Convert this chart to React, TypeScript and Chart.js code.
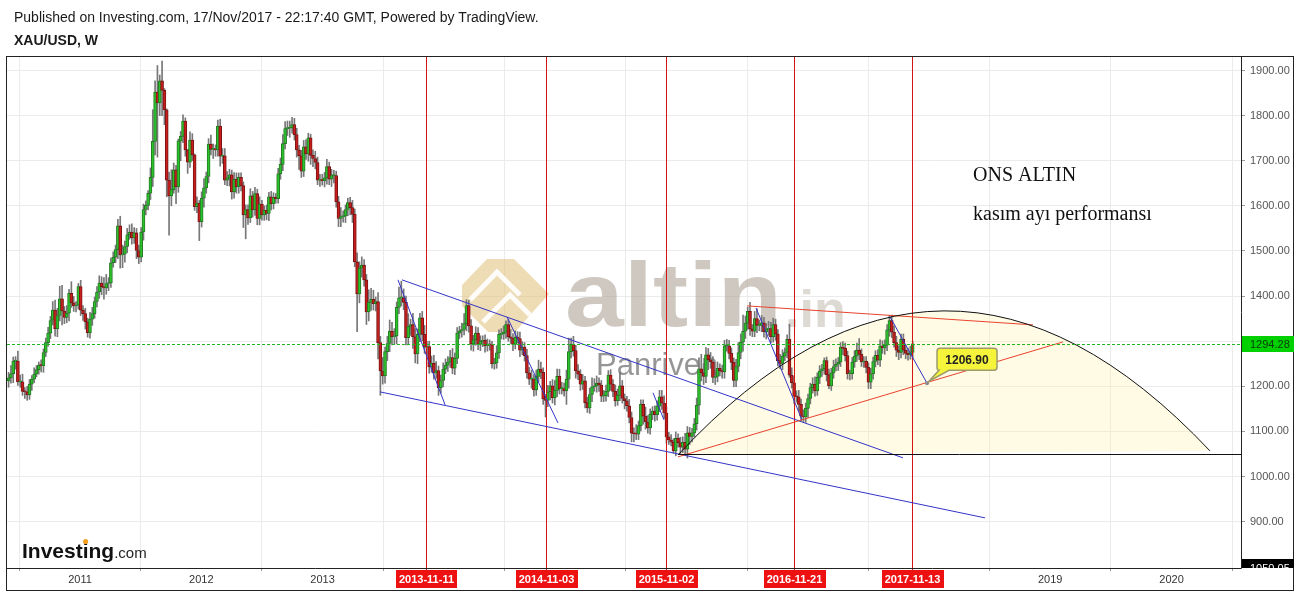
import { useEffect, useRef } from "react";
import { Chart, registerables } from "chart.js";

Chart.register(...registerables);

const SANS = '"Liberation Sans", Arial, Helvetica, sans-serif';
const SERIF = '"Liberation Serif", "Times New Roman", Times, serif';

// ---------------- data: XAU/USD weekly candles (Monday of each week) ----------------
const firstWeekMonday = "2010-05-31";
const firstOpen = 1212;

const close2010 = [1219, 1228, 1256, 1256, 1210, 1210, 1189, 1188, 1181, 1205, 1216, 1227, 1237, 1247, 1246, 1275, 1297, 1318, 1346, 1369, 1328, 1357, 1394, 1367, 1353, 1362, 1406, 1385, 1378, 1380, 1421];
const close2011 = [1369, 1361, 1343, 1319, 1349, 1361, 1388, 1409, 1429, 1421, 1418, 1428, 1429, 1474, 1486, 1503, 1556, 1491, 1493, 1510, 1536, 1542, 1529, 1540, 1501, 1486, 1542, 1592, 1601, 1628, 1663, 1743, 1852, 1828, 1877, 1856, 1813, 1657, 1622, 1636, 1680, 1642, 1744, 1754, 1788, 1724, 1697, 1746, 1713, 1598, 1606, 1565];
const close2012 = [1617, 1640, 1665, 1737, 1725, 1725, 1724, 1777, 1710, 1711, 1657, 1662, 1669, 1631, 1659, 1642, 1663, 1645, 1580, 1592, 1573, 1622, 1591, 1627, 1572, 1604, 1580, 1590, 1583, 1620, 1605, 1619, 1616, 1671, 1692, 1738, 1771, 1772, 1773, 1780, 1758, 1724, 1711, 1677, 1731, 1715, 1751, 1712, 1705, 1696, 1657, 1658, 1656];
const close2013 = [1662, 1687, 1659, 1667, 1667, 1609, 1572, 1576, 1577, 1592, 1607, 1596, 1581, 1476, 1405, 1462, 1469, 1436, 1365, 1386, 1393, 1383, 1388, 1297, 1234, 1223, 1277, 1295, 1322, 1310, 1312, 1375, 1396, 1396, 1386, 1308, 1333, 1337, 1310, 1272, 1315, 1352, 1315, 1287, 1288, 1243, 1251, 1230, 1235, 1197, 1213, 1238];
const close2014 = [1247, 1254, 1264, 1240, 1262, 1318, 1323, 1326, 1339, 1379, 1334, 1294, 1303, 1318, 1293, 1300, 1302, 1290, 1293, 1292, 1250, 1252, 1274, 1315, 1316, 1320, 1337, 1310, 1307, 1293, 1309, 1306, 1280, 1287, 1268, 1230, 1216, 1216, 1192, 1222, 1238, 1231, 1172, 1169, 1188, 1201, 1175, 1191, 1222, 1195, 1195, 1190];
const close2015 = [1216, 1277, 1293, 1279, 1234, 1227, 1205, 1212, 1164, 1152, 1182, 1199, 1201, 1207, 1203, 1178, 1179, 1189, 1225, 1205, 1189, 1168, 1180, 1201, 1173, 1168, 1157, 1131, 1096, 1095, 1094, 1113, 1160, 1134, 1121, 1108, 1138, 1145, 1137, 1156, 1177, 1163, 1141, 1088, 1081, 1076, 1057, 1085, 1075, 1065, 1076, 1061];
const close2016 = [1097, 1089, 1097, 1117, 1158, 1239, 1230, 1222, 1270, 1259, 1254, 1220, 1222, 1240, 1235, 1232, 1290, 1290, 1273, 1253, 1213, 1244, 1275, 1298, 1322, 1340, 1366, 1327, 1322, 1350, 1335, 1335, 1341, 1321, 1327, 1328, 1310, 1337, 1316, 1257, 1251, 1267, 1275, 1304, 1225, 1208, 1178, 1177, 1160, 1134, 1132, 1151];
const close2017 = [1173, 1197, 1205, 1190, 1220, 1234, 1239, 1257, 1226, 1201, 1230, 1244, 1249, 1254, 1287, 1284, 1268, 1228, 1228, 1254, 1267, 1280, 1271, 1254, 1256, 1242, 1209, 1228, 1255, 1269, 1258, 1289, 1285, 1291, 1325, 1346, 1320, 1297, 1280, 1275, 1304, 1280, 1273, 1270, 1275, 1294.28];

// upper wick above the body, lower wick below the body (USD)
const upper2010 = [12, 18, 9, 10, 22, 15, 17, 8, 12, 10, 8, 14, 9, 7, 12, 8, 10, 13, 9, 19, 22, 16, 28, 30, 10, 17, 9, 26, 14, 8, 7];
const lower2010 = [14, 12, 20, 18, 8, 12, 9, 15, 12, 10, 14, 8, 6, 10, 14, 15, 9, 8, 12, 10, 17, 18, 12, 31, 14, 12, 17, 10, 12, 13, 9];
const upper2011 = [14, 10, 12, 8, 15, 14, 10, 12, 16, 14, 20, 20, 12, 10, 12, 10, 14, 21, 20, 12, 14, 16, 18, 12, 10, 12, 10, 12, 10, 6, 21, 70, 25, 59, 13, 44, 4, 2, 18, 44, 15, 10, 4, 11, 14, 7, 1, 18, 14, 2, 14, 6];
const lower2011 = [12, 15, 16, 10, 12, 14, 10, 12, 14, 18, 25, 14, 16, 10, 10, 12, 20, 29, 28, 18, 14, 10, 14, 12, 18, 14, 10, 18, 12, 10, 14, 20, 30, 120, 28, 56, 33, 37, 87, 22, 8, 37, 12, 44, 14, 14, 25, 12, 13, 8, 13, 42];
const upper2012 = [14, 20, 10, 12, 20, 12, 10, 13, 15, 16, 16, 14, 12, 10, 15, 14, 10, 10, 8, 10, 10, 16, 10, 14, 10, 16, 8, 10, 12, 10, 12, 10, 8, 12, 14, 20, 16, 16, 15, 16, 14, 14, 10, 12, 14, 16, 10, 8, 12, 16, 12, 12, 12];
const lower2012 = [12, 20, 12, 14, 12, 20, 14, 14, 22, 16, 10, 12, 18, 16, 14, 14, 14, 12, 28, 53, 14, 10, 16, 12, 14, 14, 12, 12, 14, 16, 14, 12, 10, 10, 12, 14, 12, 15, 20, 12, 12, 16, 30, 14, 12, 12, 16, 20, 18, 14, 10, 14, 10];
const upper2013 = [12, 16, 10, 14, 12, 10, 12, 20, 12, 10, 10, 12, 16, 12, 20, 14, 18, 12, 12, 28, 24, 20, 10, 20, 14, 30, 10, 16, 25, 20, 16, 12, 24, 37, 20, 14, 28, 12, 25, 18, 12, 10, 14, 20, 12, 12, 16, 18, 20, 10, 12, 14];
const lower2013 = [14, 14, 12, 16, 16, 12, 18, 18, 12, 14, 14, 16, 18, 11, 84, 20, 20, 14, 28, 20, 18, 14, 16, 36, 54, 18, 16, 20, 18, 18, 16, 18, 14, 18, 16, 16, 16, 20, 26, 20, 22, 16, 14, 14, 20, 14, 12, 14, 12, 17, 12, 14];
const upper2014 = [14, 12, 16, 20, 12, 12, 10, 14, 22, 13, 12, 14, 10, 14, 12, 12, 10, 12, 12, 10, 8, 10, 16, 10, 12, 14, 8, 12, 16, 10, 14, 12, 14, 12, 10, 14, 12, 20, 10, 14, 20, 16, 10, 10, 14, 10, 14, 22, 16, 16, 14, 12];
const lower2014 = [10, 14, 12, 12, 14, 12, 12, 14, 12, 16, 14, 14, 16, 12, 12, 14, 12, 14, 12, 12, 10, 12, 12, 12, 10, 12, 14, 10, 12, 14, 10, 10, 14, 10, 12, 12, 12, 20, 14, 12, 12, 14, 12, 37, 14, 18, 12, 16, 14, 12, 12, 12];
const upper2015 = [20, 30, 14, 18, 12, 14, 10, 14, 10, 12, 14, 20, 16, 16, 12, 10, 12, 14, 10, 12, 10, 14, 14, 30, 12, 10, 10, 14, 12, 12, 20, 10, 10, 10, 20, 14, 12, 10, 12, 12, 14, 14, 16, 14, 10, 12, 8, 14, 10, 12, 12, 20];
const lower2015 = [30, 20, 14, 12, 16, 12, 14, 12, 12, 10, 12, 16, 10, 14, 14, 12, 12, 12, 12, 14, 12, 12, 10, 12, 10, 18, 12, 12, 19, 18, 12, 12, 12, 18, 16, 12, 14, 12, 14, 12, 12, 14, 12, 14, 10, 8, 5, 11, 10, 14, 12, 12];
const upper2016 = [14, 12, 10, 12, 16, 24, 32, 20, 16, 14, 16, 12, 14, 14, 10, 12, 12, 14, 12, 12, 10, 16, 22, 18, 36, 16, 9, 20, 10, 16, 22, 12, 16, 12, 12, 16, 14, 14, 12, 10, 14, 14, 10, 10, 34, 16, 14, 12, 14, 12, 14, 12];
const lower2016 = [20, 18, 12, 10, 14, 20, 18, 18, 14, 22, 14, 12, 16, 12, 12, 14, 14, 12, 12, 16, 14, 14, 12, 14, 20, 16, 14, 14, 12, 12, 16, 12, 14, 12, 16, 14, 14, 12, 14, 12, 12, 14, 10, 12, 5, 12, 16, 12, 14, 10, 10, 12];
const upper2017 = [10, 10, 14, 16, 10, 12, 10, 6, 8, 12, 10, 14, 12, 10, 10, 12, 12, 10, 8, 10, 12, 16, 26, 12, 10, 10, 10, 12, 10, 10, 12, 14, 12, 12, 12, 11, 12, 14, 14, 10, 12, 12, 12, 12, 14, 6];
const lower2017 = [20, 12, 12, 12, 10, 14, 12, 12, 14, 6, 10, 12, 10, 14, 10, 14, 12, 12, 14, 12, 12, 12, 12, 10, 12, 12, 14, 14, 12, 12, 10, 14, 12, 14, 12, 14, 12, 10, 14, 16, 12, 10, 12, 12, 10, 14];

// axis / marker values
const yearTicks = [2011, 2012, 2013, 2014, 2015, 2016, 2017, 2018, 2019, 2020];
const priceTicks = [900, 1000, 1100, 1200, 1300, 1400, 1500, 1600, 1700, 1800, 1900];
const novemberMarks = ["2013-11-11", "2014-11-03", "2015-11-02", "2016-11-21", "2017-11-13"];
const lastClose = 1294.28;
const bottomAxisLabel = "1050.05";
const visibleYears = [2010.398, 2020.573];
const visiblePrices = [797.4, 1929.9];

// drawings: [fromYear, fromPrice, toYear, toPrice]
const blueLines = [
  [2013.655, 1436, 2017.786, 1041.5],
  [2013.474, 1187.7, 2018.462, 908.5],
  [2013.622, 1436, 2014.01, 1159],
  [2014.521, 1354, 2014.941, 1119],
  [2015.725, 1185.5, 2015.815, 1125.7],
  [2016.574, 1373.8, 2016.953, 1125.7],
  [2017.679, 1353.9, 2017.984, 1206.9],
];
const redLines = [
  [2016.5, 1378.3, 2018.858, 1336.2],
  [2015.931, 1043.7, 2019.105, 1298.5],
];
const arcPoints = [[2015.931, 1048], [2018.124, 1682], [2020.317, 1057]];
const arcBase = [2015.931, 1050];
const projection = [2017.984, 1206.9];
const projectionText = "1206.90";

// ---------------- helpers ----------------
function fracYear(ms: number) {
  const y = new Date(ms).getUTCFullYear();
  const s = Date.UTC(y, 0, 1);
  const e = Date.UTC(y + 1, 0, 1);
  return y + (ms - s) / (e - s);
}
function dateYear(s: string) {
  const [y, m, d] = s.split("-").map(Number);
  return fracYear(Date.UTC(y, m - 1, d));
}

const closes = [...close2010, ...close2011, ...close2012, ...close2013, ...close2014, ...close2015, ...close2016, ...close2017];
const uppers = [...upper2010, ...upper2011, ...upper2012, ...upper2013, ...upper2014, ...upper2015, ...upper2016, ...upper2017];
const lowers = [...lower2010, ...lower2011, ...lower2012, ...lower2013, ...lower2014, ...lower2015, ...lower2016, ...lower2017];

const startMs = (() => {
  const [y, m, d] = firstWeekMonday.split("-").map(Number);
  return Date.UTC(y, m - 1, d);
})();

const candles = closes.map((c, i) => {
  const o = i === 0 ? firstOpen : closes[i - 1];
  const h = Math.max(o, c) + (uppers[i] ?? 0);
  const l = Math.min(o, c) - (lowers[i] ?? 0);
  return { x: fracYear(startMs + i * 7 * 86400000), o, h, l, c };
});

const GREEN = "#2cc22c";
const GREEN_EDGE = "#237a23";
const RED = "#c81e1e";
const RED_EDGE = "#7a1414";

// marker column: snapped to an even pixel column so the thin red line keeps its colour
function markerPx(X: (v: number) => number, d: string) {
  let px = Math.round(X(dateYear(d)));
  if (px % 2 !== 0) px -= 1;
  return px;
}

const decorPlugin = {
  id: "decor",
  beforeDraw(chart: any) {
    const { ctx, width, height } = chart;
    ctx.save();
    ctx.fillStyle = "#ffffff";
    ctx.fillRect(0, 0, width, height);
    ctx.fillStyle = "#1a1a1a";
    ctx.textAlign = "left";
    ctx.textBaseline = "alphabetic";
    ctx.font = `14px ${SANS}`;
    ctx.fillText("Published on Investing.com, 17/Nov/2017 - 22:17:40 GMT, Powered by TradingView.", 14, 22);
    ctx.font = `bold 14px ${SANS}`;
    ctx.fillText("XAU/USD, W", 14, 45);
    ctx.restore();
  },
  beforeDatasetsDraw(chart: any) {
    const { ctx, chartArea: a, scales } = chart;
    const X = (v: number) => scales.x.getPixelForValue(v);
    const Y = (v: number) => scales.y.getPixelForValue(v);
    ctx.save();
    ctx.beginPath();
    ctx.rect(a.left, a.top, a.right - a.left, a.bottom - a.top);
    ctx.clip();
    // yellow arc area
    ctx.beginPath();
    ctx.moveTo(X(arcPoints[0][0]), Y(arcPoints[0][1]));
    ctx.quadraticCurveTo(X(arcPoints[1][0]), Y(arcPoints[1][1]), X(arcPoints[2][0]), Y(arcPoints[2][1]));
    ctx.closePath();
    ctx.fillStyle = "rgba(255, 240, 150, 0.25)";
    ctx.fill();

    // watermark: gold emblem
    ctx.fillStyle = "rgba(224, 192, 120, 0.55)";
    ctx.beginPath();
    ctx.moveTo(462, 285);
    ctx.lineTo(487, 259);
    ctx.lineTo(514, 259);
    ctx.lineTo(549, 294);
    ctx.lineTo(515, 332);
    ctx.lineTo(488, 332);
    ctx.lineTo(462, 306);
    ctx.closePath();
    ctx.fill();
    ctx.strokeStyle = "rgba(255,255,255,0.9)";
    ctx.lineWidth = 5;
    ctx.beginPath();
    ctx.moveTo(470, 300);
    ctx.lineTo(497, 272);
    ctx.lineTo(520, 295);
    ctx.moveTo(483, 322);
    ctx.lineTo(510, 295);
    ctx.lineTo(530, 315);
    ctx.stroke();

    // watermark: text
    ctx.textAlign = "left";
    ctx.textBaseline = "alphabetic";
    ctx.font = `bold 90px ${SANS}`;
    const w = ctx.measureText("altin").width;
    ctx.save();
    ctx.translate(565, 326);
    ctx.scale(217 / w, 1);
    ctx.fillStyle = "rgba(165, 155, 140, 0.55)";
    ctx.fillText("altin", 0, 0);
    ctx.restore();
    ctx.font = `bold 52px ${SANS}`;
    ctx.fillStyle = "rgba(165, 155, 140, 0.38)";
    ctx.fillText(".in", 785, 327);
    ctx.font = `31px ${SANS}`;
    ctx.fillStyle = "rgba(110, 110, 110, 0.72)";
    ctx.fillText("Panriven", 596, 375);
    ctx.restore();
  },
  afterDatasetsDraw(chart: any) {
    const { ctx, chartArea: a, scales } = chart;
    const X = (v: number) => scales.x.getPixelForValue(v);
    const Y = (v: number) => scales.y.getPixelForValue(v);
    ctx.save();
    // November markers
    novemberMarks.forEach((d) => {
      const px = markerPx(X, d) + 0.5;
      ctx.strokeStyle = "#d41515";
      ctx.lineWidth = 1;
      ctx.beginPath();
      ctx.moveTo(px, a.top);
      ctx.lineTo(px, a.bottom + 3);
      ctx.stroke();
    });

    ctx.save();
    ctx.beginPath();
    ctx.rect(a.left, a.top, a.right - a.left, a.bottom - a.top);
    ctx.clip();
    const seg = (l: number[], color: string) => {
      ctx.strokeStyle = color;
      ctx.lineWidth = 1;
      ctx.beginPath();
      ctx.moveTo(X(l[0]), Y(l[1]));
      ctx.lineTo(X(l[2]), Y(l[3]));
      ctx.stroke();
    };
    blueLines.forEach((l) => seg(l, "#3434c8"));
    redLines.forEach((l) => seg(l, "#e8432e"));
    // arc
    ctx.strokeStyle = "#111";
    ctx.beginPath();
    ctx.moveTo(X(arcPoints[0][0]), Y(arcPoints[0][1]));
    ctx.quadraticCurveTo(X(arcPoints[1][0]), Y(arcPoints[1][1]), X(arcPoints[2][0]), Y(arcPoints[2][1]));
    ctx.stroke();
    // base line
    const by = Math.round(Y(arcBase[1])) + 0.5;
    ctx.beginPath();
    ctx.moveTo(X(arcBase[0]), by);
    ctx.lineTo(a.right, by);
    ctx.stroke();
    // last price dashed
    const ly = Math.round(Y(lastClose)) + 0.5;
    ctx.strokeStyle = "#22b522";
    ctx.setLineDash([3, 2]);
    ctx.beginPath();
    ctx.moveTo(a.left, ly);
    ctx.lineTo(a.right + 4, ly);
    ctx.stroke();
    ctx.setLineDash([]);
    ctx.restore();

    // texts
    ctx.fillStyle = "#111";
    ctx.textAlign = "left";
    ctx.textBaseline = "alphabetic";
    ctx.font = `20px ${SERIF}`;
    ctx.fillText("ONS ALTIN", 973, 181);
    ctx.fillText("kasım ayı performansı", 973, 220);

    // callout
    const ax = X(projection[0]);
    const ay = Y(projection[1]);
    const bx = ax + 10;
    const byy = ay - 35;
    const bw = 60;
    const bh = 22;
    const r = 3;
    ctx.beginPath();
    ctx.moveTo(bx + r, byy);
    ctx.lineTo(bx + bw - r, byy);
    ctx.quadraticCurveTo(bx + bw, byy, bx + bw, byy + r);
    ctx.lineTo(bx + bw, byy + bh - r);
    ctx.quadraticCurveTo(bx + bw, byy + bh, bx + bw - r, byy + bh);
    ctx.lineTo(bx + 12, byy + bh);
    ctx.lineTo(ax + 2, ay - 2);
    ctx.lineTo(bx + 2, byy + bh);
    ctx.quadraticCurveTo(bx, byy + bh, bx, byy + bh - r);
    ctx.lineTo(bx, byy + r);
    ctx.quadraticCurveTo(bx, byy, bx + r, byy);
    ctx.closePath();
    ctx.fillStyle = "#f6f43a";
    ctx.fill();
    ctx.strokeStyle = "#9d9b6c";
    ctx.lineWidth = 1.5;
    ctx.stroke();
    ctx.fillStyle = "#8c8c8c";
    ctx.beginPath();
    ctx.arc(ax, ay, 2, 0, Math.PI * 2);
    ctx.fill();
    ctx.fillStyle = "#222";
    ctx.font = `bold 12px ${SANS}`;
    ctx.textAlign = "center";
    ctx.textBaseline = "middle";
    ctx.fillText(projectionText, bx + bw / 2, byy + bh / 2 + 1);
    ctx.restore();
  },
  afterDraw(chart: any) {
    const { ctx, chartArea: a, scales } = chart;
    const X = (v: number) => scales.x.getPixelForValue(v);
    const Y = (v: number) => scales.y.getPixelForValue(v);
    ctx.save();
    // frame
    ctx.strokeStyle = "#222";
    ctx.lineWidth = 1;
    ctx.strokeRect(6.5, 56.5, 1287, 534);
    ctx.beginPath();
    ctx.moveTo(a.right + 0.5, 56.5);
    ctx.lineTo(a.right + 0.5, a.bottom + 0.5);
    ctx.moveTo(6.5, a.bottom + 0.5);
    ctx.lineTo(a.right + 0.5, a.bottom + 0.5);
    ctx.stroke();

    // November date boxes
    ctx.font = `bold 11px ${SANS}`;
    ctx.textAlign = "center";
    ctx.textBaseline = "middle";
    novemberMarks.forEach((d) => {
      const px = markerPx(X, d) + 0.5;
      const tw = ctx.measureText(d).width + 6;
      ctx.fillStyle = "#ee1111";
      ctx.fillRect(Math.round(px - tw / 2), a.bottom + 2, Math.round(tw), 18);
      ctx.fillStyle = "#ffffff";
      ctx.fillText(d, px, a.bottom + 11.5);
    });

    // last price label
    const ly = Math.round(Y(lastClose));
    ctx.fillStyle = "#00d000";
    ctx.fillRect(a.right + 1, ly - 8, 52, 16);
    ctx.fillStyle = "#0b3a0b";
    ctx.font = `11px ${SANS}`;
    ctx.textAlign = "left";
    ctx.fillText(lastClose.toFixed(2), a.right + 9, ly + 1);

    // clipped bottom label
    ctx.save();
    ctx.beginPath();
    ctx.rect(a.right + 1, a.bottom - 9, 52, 9);
    ctx.clip();
    ctx.fillStyle = "#000";
    ctx.fillRect(a.right + 1, a.bottom - 9, 52, 9);
    ctx.fillStyle = "#fff";
    ctx.fillText(bottomAxisLabel, a.right + 9, a.bottom + 1);
    ctx.restore();

    // Investing.com logo
    ctx.textAlign = "left";
    ctx.textBaseline = "alphabetic";
    ctx.fillStyle = "#111";
    ctx.font = `bold 21px ${SANS}`;
    ctx.fillText("Investing", 22, 558);
    const invW = ctx.measureText("Investing").width;
    const preW = ctx.measureText("Invest").width;
    const iW = ctx.measureText("i").width;
    ctx.fillStyle = "#f5a020";
    ctx.beginPath();
    ctx.arc(22 + preW + iW / 2, 541.5, 2.6, 0, Math.PI * 2);
    ctx.fill();
    ctx.fillStyle = "#222";
    ctx.font = `15px ${SANS}`;
    ctx.fillText(".com", 22 + invW, 558);
    ctx.restore();
  },
};

export default function App() {
  const ref = useRef<HTMLCanvasElement | null>(null);
  useEffect(() => {
    document.body.style.margin = "0";
    const canvas = ref.current;
    if (!canvas) return;
    const chart = new Chart(canvas, {
      type: "bar",
      data: {
        datasets: [
          {
            label: "body",
            data: candles.map((k) => ({ x: k.x, y: [Math.min(k.o, k.c), Math.max(k.o, k.c)] })),
            backgroundColor: candles.map((k) => (k.c >= k.o ? GREEN : RED)),
            borderColor: candles.map((k) => (k.c >= k.o ? GREEN_EDGE : RED_EDGE)),
            borderWidth: 1,
            borderSkipped: false,
            barThickness: 3,
            minBarLength: 1,
            grouped: false,
            order: 1,
          } as any,
          {
            label: "wick",
            data: candles.map((k) => ({ x: k.x, y: [k.l, k.h] })),
            backgroundColor: "#777777",
            borderWidth: 0,
            barThickness: 1,
            grouped: false,
            order: 2,
          } as any,
        ],
      },
      options: {
        responsive: false,
        animation: false,
        devicePixelRatio: 1,
        events: [],
        layout: { padding: { left: 7, top: 57, right: 6, bottom: 2 } },
        plugins: { legend: { display: false }, tooltip: { enabled: false } },
        scales: {
          x: {
            type: "linear",
            min: visibleYears[0],
            max: visibleYears[1],
            offset: false,
            afterBuildTicks: (s: any) => {
              s.ticks = yearTicks.map((v) => ({ value: v }));
            },
            afterFit: (s: any) => {
              s.height = 22;
            },
            grid: { color: "#ebebeb", drawTicks: true, tickLength: 3, tickColor: "#999" },
            border: { display: false },
            ticks: {
              autoSkip: false,
              maxRotation: 0,
              padding: 2,
              color: "#333",
              font: { family: SANS, size: 11 },
              callback: (v: any) => String(v),
            },
          },
          y: {
            type: "linear",
            position: "right",
            min: visiblePrices[0],
            max: visiblePrices[1],
            afterBuildTicks: (s: any) => {
              s.ticks = priceTicks.map((v) => ({ value: v }));
            },
            afterFit: (s: any) => {
              s.width = 52;
            },
            grid: { color: "#ebebeb", drawTicks: true, tickLength: 4, tickColor: "#999" },
            border: { display: false },
            ticks: {
              padding: 5,
              color: "#555",
              font: { family: SANS, size: 11 },
              callback: (v: any) => Number(v).toFixed(2),
            },
          },
        },
      } as any,
      plugins: [decorPlugin],
    });
    return () => chart.destroy();
  }, []);
  return <canvas ref={ref} width={1299} height={592} style={{ display: "block" }} />;
}
